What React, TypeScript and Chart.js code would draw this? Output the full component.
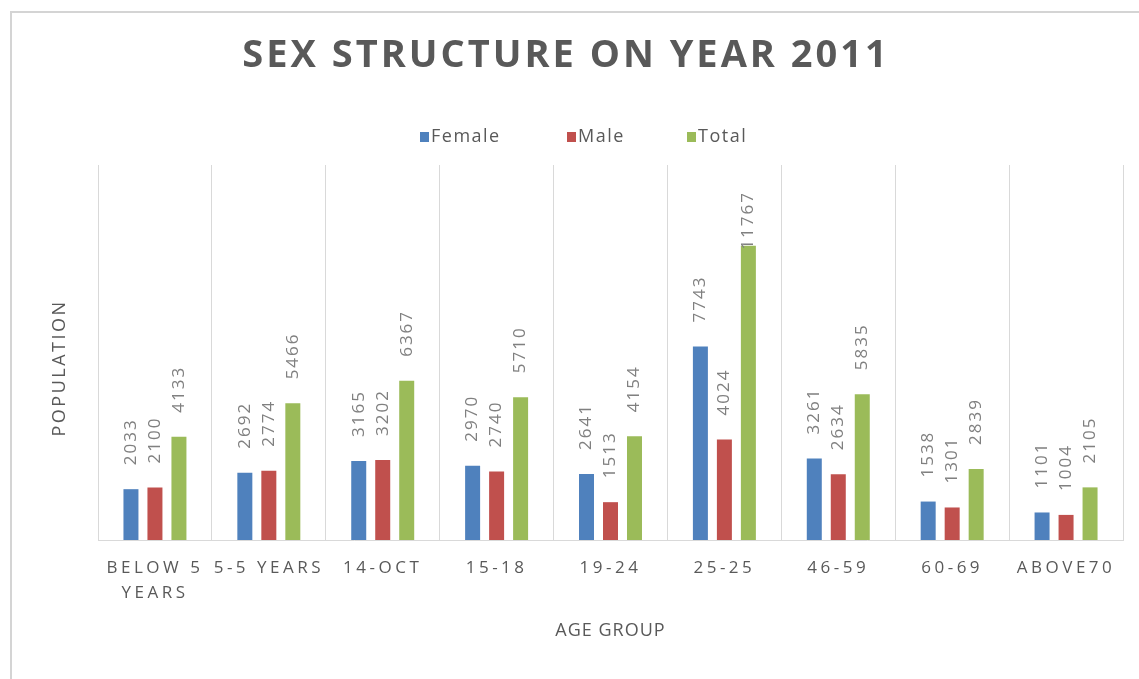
import React, { useEffect, useRef } from "react";
import { Chart, registerables } from "chart.js";

Chart.register(...registerables);

const chartTitle = "SEX STRUCTURE ON YEAR 2011";
const xAxisTitle = "AGE GROUP";
const yAxisTitle = "POPULATION";
const categories: (string | string[])[] = [
  ["BELOW 5", "YEARS"],
  "5-5 YEARS",
  "14-OCT",
  "15-18",
  "19-24",
  "25-25",
  "46-59",
  "60-69",
  "ABOVE70",
];
const seriesNames = ["Female", "Male", "Total"];
const female = [2033, 2692, 3165, 2970, 2641, 7743, 3261, 1538, 1101];
const male = [2100, 2774, 3202, 2740, 1513, 4024, 2634, 1301, 1004];
const total = [4133, 5466, 6367, 5710, 4154, 11767, 5835, 2839, 2105];
const seriesColors = ["#4F81BD", "#C0504D", "#9BBB59"];
const yMax = 15000;

const FONT = '"Open Sans", "DejaVu Sans", sans-serif';

export default function App() {
  const ref = useRef<HTMLCanvasElement>(null);

  useEffect(() => {
    document.body.style.margin = "0";
    const canvas = ref.current!;

    const customPlugin = {
      id: "customText",
      beforeDraw(chart: any) {
        const ctx = chart.ctx as CanvasRenderingContext2D;
        const { width, height, chartArea } = chart;
        ctx.save();
        ctx.fillStyle = "#ffffff";
        ctx.fillRect(0, 0, width, height);
        // outer border (top + left)
        ctx.strokeStyle = "#d4d4d4";
        ctx.lineWidth = 2;
        ctx.beginPath();
        ctx.moveTo(11, height);
        ctx.lineTo(11, 12);
        ctx.lineTo(width, 12);
        ctx.stroke();

        // title
        ctx.fillStyle = "#595959";
        ctx.font = `bold 38px ${FONT}`;
        (ctx as any).letterSpacing = "3px";
        ctx.textAlign = "center";
        ctx.textBaseline = "middle";
        ctx.fillText(chartTitle, 566, 56);

        // legend
        ctx.font = `18px ${FONT}`;
        (ctx as any).letterSpacing = "1.5px";
        ctx.textAlign = "left";
        const legendX = [420, 567, 687];
        seriesNames.forEach((n, i) => {
          ctx.fillStyle = seriesColors[i];
          ctx.fillRect(legendX[i], 132, 9, 10);
          ctx.fillStyle = "#595959";
          ctx.fillText(n, legendX[i] + 11, 137);
        });

        // x axis title
        ctx.font = `18px ${FONT}`;
        (ctx as any).letterSpacing = "1px";
        ctx.textAlign = "center";
        ctx.fillText(xAxisTitle, (chartArea.left + chartArea.right) / 2, 631);

        // y axis title
        ctx.save();
        ctx.translate(60, 368);
        ctx.rotate(-Math.PI / 2);
        (ctx as any).letterSpacing = "2.5px";
        ctx.fillText(yAxisTitle, 0, 0);
        ctx.restore();

        // x tick labels
        const xs = chart.scales.x;
        ctx.font = `17px ${FONT}`;
        (ctx as any).letterSpacing = "3.5px";
        ctx.fillStyle = "#595959";
        ctx.textAlign = "center";
        ctx.textBaseline = "top";
        categories.forEach((c, i) => {
          const cx = xs.getPixelForValue(i);
          const lines = Array.isArray(c) ? c : [c];
          lines.forEach((ln, j) => {
            ctx.fillText(ln, cx, chartArea.bottom + 20 + j * 25);
          });
        });
        (ctx as any).letterSpacing = "0px";
        ctx.restore();
      },
      afterDatasetsDraw(chart: any) {
        const ctx = chart.ctx as CanvasRenderingContext2D;
        const top = chart.chartArea.top;
        ctx.save();
        ctx.font = `17px ${FONT}`;
        (ctx as any).letterSpacing = "2px";
        ctx.fillStyle = "#808080";
        ctx.textAlign = "left";
        ctx.textBaseline = "middle";
        chart.data.datasets.forEach((ds: any, di: number) => {
          const meta = chart.getDatasetMeta(di);
          meta.data.forEach((bar: any, i: number) => {
            const txt = String(ds.data[i]);
            const w = ctx.measureText(txt).width;
            let y = bar.y - 24;
            if (y - w < top + 26) y = top + 26 + w;
            ctx.save();
            ctx.translate(bar.x, y);
            ctx.rotate(-Math.PI / 2);
            ctx.fillText(txt, 0, 0);
            ctx.restore();
          });
        });
        (ctx as any).letterSpacing = "0px";
        ctx.restore();
      },
    };

    const chart = new Chart(canvas, {
      type: "bar",
      data: {
        labels: categories as any,
        datasets: [female, male, total].map((d, i) => ({
          label: seriesNames[i],
          data: d,
          backgroundColor: seriesColors[i],
          borderWidth: 0,
          barPercentage: 0.625,
          categoryPercentage: 0.632,
        })),
      },
      options: {
        animation: false,
        responsive: true,
        maintainAspectRatio: false,
        layout: { padding: { left: 98, right: 16, top: 165, bottom: 139 } },
        plugins: {
          legend: { display: false },
          title: { display: false },
          tooltip: { enabled: false },
        },
        scales: {
          x: {
            grid: {
              display: true,
              offset: true,
              color: "#d9d9d9",
              lineWidth: 1,
              drawTicks: false,
            },
            border: { display: true, color: "#d9d9d9", width: 1 },
            ticks: { display: false },
          },
          y: {
            display: false,
            min: 0,
            max: yMax,
          },
        },
      },
      plugins: [customPlugin],
    });

    return () => chart.destroy();
  }, []);

  return (
    <div style={{ position: "absolute", left: 0, top: 0, width: 1139, height: 679 }}>
      <canvas ref={ref} />
    </div>
  );
}
